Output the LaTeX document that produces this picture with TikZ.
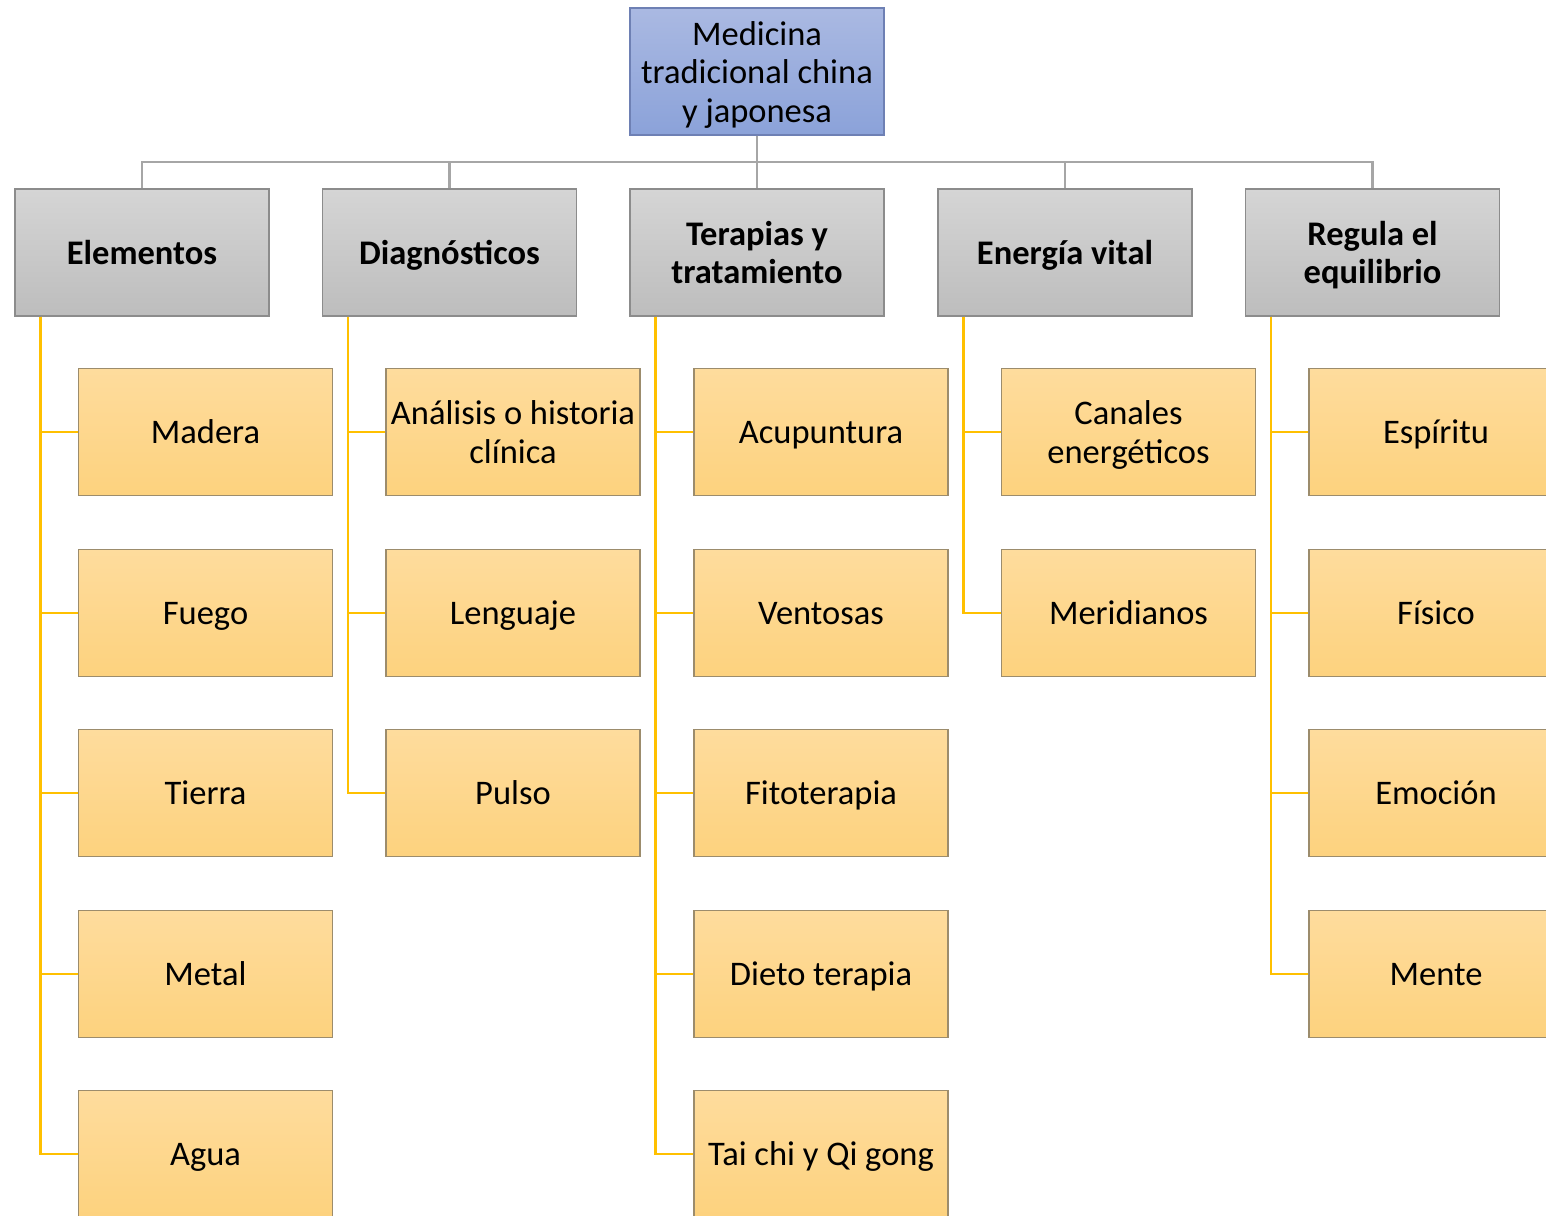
\documentclass[tikz,border=0pt]{standalone}
\usepackage{fontspec}
\setmainfont{Carlito}
\usepackage{tikz}
\definecolor{azulA}{HTML}{AAB9E2}
\definecolor{azulB}{HTML}{8BA2D9}
\definecolor{azulC}{HTML}{6E80B4}
\definecolor{grisA}{HTML}{D5D5D5}
\definecolor{grisB}{HTML}{BDBDBD}
\definecolor{grisC}{HTML}{8C8C8C}
\definecolor{amaA}{HTML}{FEDC9D}
\definecolor{amaB}{HTML}{FDD27E}
\definecolor{amaC}{HTML}{9C8C6C}
\definecolor{linea}{HTML}{FFC000}
\definecolor{bus}{HTML}{A6A6A6}
\newcommand{\puntal}{\rule[-7.5pt]{0pt}{38.5pt}}
\newcommand{\alto}{\rule{0pt}{31.5pt}}

\begin{document}
\begin{tikzpicture}[x=1pt,y=-1pt]
  \tikzset{caja/.style = {minimum width=254pt, minimum height=127pt, inner sep=0pt, align=center,
                          font=\fontsize{34.5}{38.5}\selectfont, line width=1.2pt,
                          execute at begin node=\puntal, execute at end node=\puntal},
           raizcaja/.style = {caja, draw=azulC, top color=azulA, bottom color=azulB},
           tema/.style = {caja, draw=grisC, top color=grisA, bottom color=grisB, font=\fontsize{34.5}{38.5}\selectfont\bfseries},
           hoja/.style = {caja, draw=amaC, top color=amaA, bottom color=amaB},
           gris/.style = {draw=bus, line width=2.6pt},
           amarilla/.style = {draw=linea, line width=2.6pt}}
  \useasboundingbox (0,0) rectangle (1546,1215);
  \clip (0,0) rectangle (1546,1215);

  \node[raizcaja] (raiz) at (757,71.5) {\alto Medicina\\tradicional china\\y japonesa};
  \coordinate (bus) at (757,162);

  \node[tema] (elem) at (142,252.5) {Elementos};
  \node[tema] (diag) at (449.5,252.5) {Diagnósticos};
  \node[tema] (tera) at (757,252.5) {\alto Terapias y\\tratamiento};
  \node[tema] (ener) at (1065,252.5) {Energía vital};
  \node[tema] (regu) at (1372.5,252.5) {\alto Regula el\\equilibrio};

  \node[hoja] (madera) at (205.5,432) {Madera};
  \node[hoja] (fuego)  at (205.5,613) {Fuego};
  \node[hoja] (tierra) at (205.5,793) {Tierra};
  \node[hoja] (metal)  at (205.5,974) {Metal};
  \node[hoja] (agua)   at (205.5,1154) {Agua};

  \node[hoja] (analisis) at (513,432) {\alto Análisis o historia\\clínica};
  \node[hoja] (lenguaje) at (513,613) {Lenguaje};
  \node[hoja] (pulso)    at (513,793) {Pulso};

  \node[hoja] (acupuntura)  at (821,432) {Acupuntura};
  \node[hoja] (ventosas)    at (821,613) {Ventosas};
  \node[hoja] (fitoterapia) at (821,793) {Fitoterapia};
  \node[hoja] (dieto)       at (821,974) {Dieto terapia};
  \node[hoja] (taichi)      at (821,1154) {Tai chi y Qi gong};

  \node[hoja] (canales)    at (1128.5,432) {\alto Canales\\energéticos};
  \node[hoja] (meridianos) at (1128.5,613) {Meridianos};

  \node[hoja] (espiritu) at (1436,432) {Espíritu};
  \node[hoja] (fisico)   at (1436,613) {Físico};
  \node[hoja] (emocion)  at (1436,793) {Emoción};
  \node[hoja] (mente)    at (1436,974) {Mente};

  \foreach \t in {elem,diag,tera,ener,regu}
    \draw[gris] (raiz.south) -- (bus) -| (\t.north);

  \foreach \t/\h in {elem/madera,elem/fuego,elem/tierra,elem/metal,elem/agua,
                     diag/analisis,diag/lenguaje,diag/pulso,
                     tera/acupuntura,tera/ventosas,tera/fitoterapia,tera/dieto,tera/taichi,
                     ener/canales,ener/meridianos,
                     regu/espiritu,regu/fisico,regu/emocion,regu/mente}
    \draw[amarilla] ([xshift=26pt]\t.south west) |- (\h.west);
\end{tikzpicture}
\end{document}
